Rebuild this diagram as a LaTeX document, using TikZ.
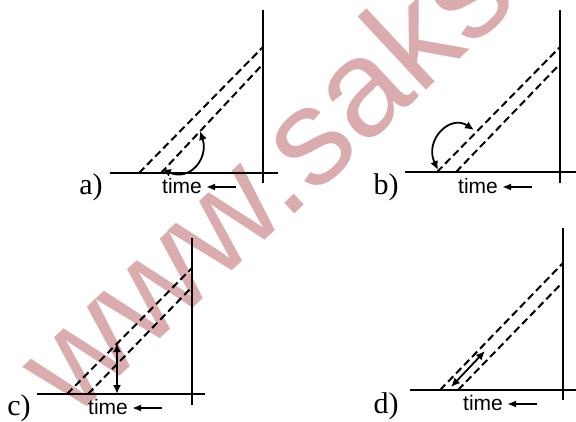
\documentclass[tikz,border=0pt]{standalone}
\usepackage{fontspec}
\setmainfont{Liberation Serif}
\setsansfont{Liberation Sans}
\usetikzlibrary{arrows.meta}
\definecolor{markpink}{RGB}{219,172,174}
\tikzset{
  axisline/.style={line width=2pt},
  rayline/.style={line width=2pt, dash pattern=on 7.5pt off 4pt},
  dblarrow/.style={line width=1.8pt, {Latex[length=9pt,width=8pt]}-{Latex[length=9pt,width=8pt]}},
  timearrow/.style={line width=2.2pt, -{Latex[length=9pt,width=7pt]}, shorten >=4pt},
  panellabel/.style={font=\fontsize{30}{30}\selectfont, inner sep=0pt},
  timelabel/.style={font=\sffamily\fontsize{21}{21}\selectfont, inner sep=0pt},
}

\begin{document}
\begin{tikzpicture}[x=1pt, y=-1pt]
  \useasboundingbox (0,0) rectangle (576,421);
  \clip (0,0) rectangle (576,421);

  % watermark
  \node[markpink, rotate=43, anchor=base west, inner sep=0pt,
        font=\sffamily\fontsize{138}{138}\selectfont] (mark) at (72,421) {www.saks};

  % panel a)
  \coordinate (aL) at (110,173); \coordinate (aR) at (278,173);
  \coordinate (aT) at (263,10);  \coordinate (aB) at (263,183);
  \coordinate (aU0) at (139,173); \coordinate (aU1) at (263,47);
  \coordinate (aD0) at (161,173); \coordinate (aD1) at (263,64);
  \draw[axisline] (aL) -- (aR);
  \draw[axisline] (aT) -- (aB);
  \draw[rayline] (aU0) -- (aU1);
  \draw[rayline] (aD0) -- (aD1);
  % angle between baseline and ray
  \coordinate (aA1) at (162,169); \coordinate (aA2) at (200,131);
  \draw[dblarrow] (aA1) .. controls (190,182) and (209,158) .. (aA2);
  \node[panellabel] (laba) at (91,187) {a)};
  \node[timelabel] (timea) at (182,186) {time};
  \coordinate (ta) at (236,187);
  \draw[timearrow] (ta) -- (timea.east |- ta);

  % panel b)
  \coordinate (bL) at (405,172); \coordinate (bR) at (576,172);
  \coordinate (bT) at (560,10);  \coordinate (bB) at (560,183);
  \coordinate (bU0) at (437,172); \coordinate (bU1) at (560,47);
  \coordinate (bD0) at (456,172); \coordinate (bD1) at (560,64);
  \draw[axisline] (bL) -- (bR);
  \draw[axisline] (bT) -- (bB);
  \draw[rayline] (bU0) -- (bU1);
  \draw[rayline] (bD0) -- (bD1);
  % outer angle
  \coordinate (bA1) at (474,130); \coordinate (bA2) at (438,170);
  \draw[dblarrow] (bA1) .. controls (450,114) and (424,140) .. (bA2);
  \node[panellabel] (labb) at (386,187) {b)};
  \node[timelabel] (timeb) at (478,186) {time};
  \coordinate (tb) at (532,187);
  \draw[timearrow] (tb) -- (timeb.east |- tb);

  % panel c)
  \coordinate (cL) at (37,394); \coordinate (cR) at (205,394);
  \coordinate (cT) at (192,238); \coordinate (cB) at (192,405);
  \coordinate (cU0) at (67,394); \coordinate (cU1) at (192,268);
  \coordinate (cD0) at (88,394); \coordinate (cD1) at (192,287);
  \draw[axisline] (cL) -- (cR);
  \draw[axisline] (cT) -- (cB);
  \draw[rayline] (cU0) -- (cU1);
  \draw[rayline] (cD0) -- (cD1);
  % vertical height
  \coordinate (cA1) at (117,394); \coordinate (cA2) at (117,343);
  \draw[dblarrow] (cA1) -- (cA2);
  \node[panellabel] (labc) at (19,408) {c)};
  \node[timelabel] (timec) at (108,407) {time};
  \coordinate (tc) at (162,408);
  \draw[timearrow] (tc) -- (timec.east |- tc);

  % panel d)
  \coordinate (dL) at (410,390); \coordinate (dR) at (576,390);
  \coordinate (dT) at (563,228); \coordinate (dB) at (563,400);
  \coordinate (dU0) at (440,390); \coordinate (dU1) at (563,263);
  \coordinate (dD0) at (458,390); \coordinate (dD1) at (563,282);
  \draw[axisline] (dL) -- (dR);
  \draw[axisline] (dT) -- (dB);
  \draw[rayline] (dU0) -- (dU1);
  \draw[rayline] (dD0) -- (dD1);
  % along the ray
  \coordinate (dA1) at (451,387); \coordinate (dA2) at (485,351);
  \draw[dblarrow] (dA1) -- (dA2);
  \node[panellabel] (labd) at (386,406) {d)};
  \node[timelabel] (timed) at (483,403) {time};
  \coordinate (td) at (537,404);
  \draw[timearrow] (td) -- (timed.east |- td);
\end{tikzpicture}
\end{document}
